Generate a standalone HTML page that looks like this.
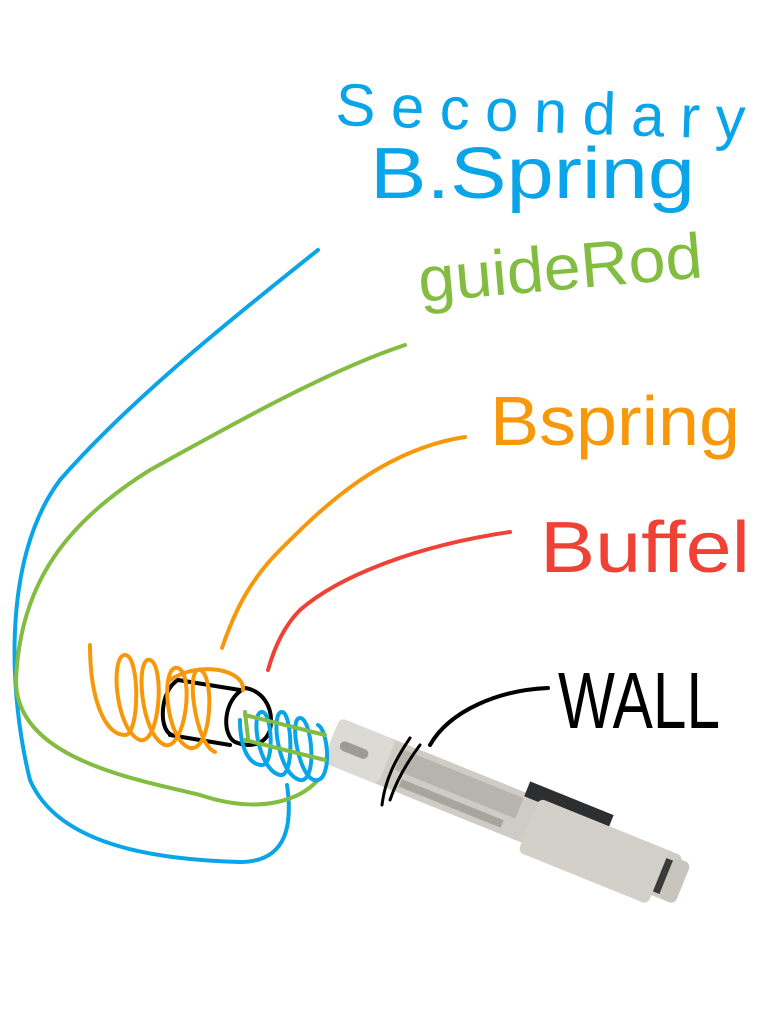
<!DOCTYPE html>
<html><head><meta charset="utf-8"><style>
html,body{margin:0;padding:0;background:#fff;}
svg{display:block}
text{font-family:"Liberation Sans",sans-serif;font-weight:normal;}
</style></head><body>
<svg width="768" height="1024" viewBox="0 0 768 1024" xmlns="http://www.w3.org/2000/svg">
<g fill="none" stroke-linecap="round" stroke-linejoin="round" stroke-width="4">
<g transform="translate(332,738) rotate(22)">
<rect x="0" y="-22" width="370" height="48" rx="6" fill="#cfccc5" stroke="none"/>
<rect x="0" y="-22" width="60" height="48" rx="6" fill="#dcdad4" stroke="none"/>
<rect x="10" y="-2" width="30" height="10" rx="5" fill="#9e9b94" stroke="none"/>
<rect x="70" y="-16" width="130" height="22" fill="#b7b4ad" stroke="none"/>
<rect x="80" y="12" width="110" height="8" fill="#a8a59e" stroke="none"/>
<rect x="200" y="-34" width="90" height="16" fill="#2c2e30" stroke="none"/>
<rect x="215" y="-22" width="140" height="58" rx="6" fill="#d3d0c9" stroke="none"/>
<rect x="355" y="-14" width="22" height="36" fill="#3a3a3a" stroke="none"/>
<rect x="362" y="-18" width="18" height="44" rx="6" fill="#c8c5be" stroke="none"/>
</g>
<path d="M318 250 C230 320 130 400 60 480 C0 560 10 700 30 780 C60 850 170 860 240 862 C290 862 292 820 287 785" stroke="#0aa5e8"/>
<path d="M405 345 C330 370 240 420 150 470 C70 520 20 580 16 680 C15 760 140 780 200 795 C260 815 300 800 318 780" stroke="#82bd41"/>
<path d="M465 437 C380 450 320 510 280 550 C250 580 235 610 222 648" stroke="#f7980a"/>
<path d="M510 532 C420 545 340 575 300 610 C285 625 275 645 268 670" stroke="#ef4136"/>
<path d="M548 688 C500 690 450 710 430 745" stroke="#000"/>
<path d="M410 738 C395 760 385 780 382 805 M420 745 C405 765 395 785 390 800" stroke="#000" stroke-width="3"/>
<path d="M178 680 L240 690 M170 735 L230 745 M178 680 C160 690 158 730 172 735 M245 688 C260 690 275 705 270 730 C265 745 250 748 235 742 C222 735 222 700 245 688" stroke="#000"/>
<path d="M90 645 C90 700 105 735 125 735 C140 735 140 655 125 655 C110 655 115 730 140 740 C160 745 165 665 150 660 C135 655 140 735 165 745 C185 750 195 675 178 668 C160 663 165 740 190 748 C212 752 215 675 200 670 C185 665 195 745 215 752 M170 680 C200 660 245 670 243 690" stroke="#f7980a"/>
<path d="M240 720 C240 750 250 765 262 765 C275 765 272 712 262 712 C250 712 258 770 280 775 C295 778 292 712 282 712 C270 712 278 775 300 780 C318 783 312 718 300 718 C288 718 300 785 318 780 C332 776 328 730 318 725" stroke="#0aa5e8"/>
<path d="M245 715 L325 735 M245 740 L325 760 M245 712 L248 738" stroke="#82bd41"/>
</g>
<text x="335" y="125" fill="#0aa5e8" font-size="60" textLength="410" lengthAdjust="spacing" transform="rotate(2 335 125)">Secondary</text>
<text x="370" y="198" fill="#0aa5e8" font-size="72" textLength="325" lengthAdjust="spacingAndGlyphs">B.Spring</text>
<text x="420" y="302" fill="#82bd41" font-size="64" textLength="285" lengthAdjust="spacingAndGlyphs" transform="rotate(-5 420 302)">guideRod</text>
<text x="490" y="445" fill="#f7980a" font-size="70" textLength="250" lengthAdjust="spacingAndGlyphs">Bspring</text>
<text x="540" y="572" fill="#ef4136" font-size="72" textLength="210" lengthAdjust="spacingAndGlyphs">Buffel</text>
<text x="558" y="728" fill="#000" font-size="80" textLength="162" lengthAdjust="spacingAndGlyphs">WALL</text>
</svg>
</body></html>
